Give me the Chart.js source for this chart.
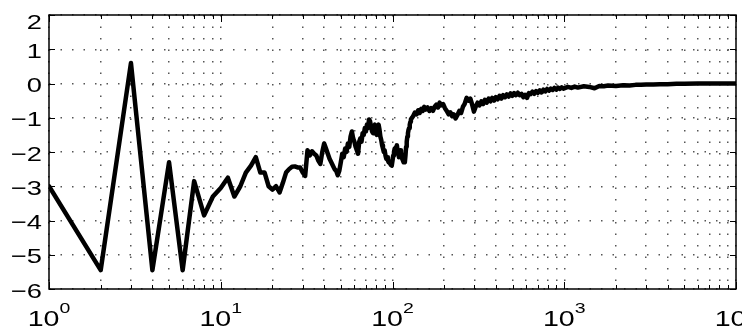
<!DOCTYPE html>
<html>
<head>
<meta charset="utf-8">
<script src="https://cdn.jsdelivr.net/npm/chart.js@4"></script>
<style>
  html, body { margin: 0; padding: 0; background: #fff; }
  #wrap { width: 742px; height: 326px; }
</style>
</head>
<body>
<div id="wrap"><canvas id="c" width="742" height="326"></canvas></div>
<script>
/* ============================================================
   log-x response curve, MATLAB-like frame
   ============================================================ */

const FONT = '"Liberation Sans", Arial, Helvetica, sans-serif';
const SX   = 1.3;   // text looks stretched sideways in the original

/* axes */
const xMajor      = [1, 10, 100, 1000, 10000];
const xExpLabels  = ['0', '1', '2', '3', '4'];
const xMinorSteps = [2, 3, 4, 5, 6, 7, 8, 9];
const yTicks      = [-6, -5, -4, -3, -2, -1, 0, 1, 2];

/* values for n = 1 .. 130 */
const yLow = [
  -3.0, -5.45, 0.6, -5.45, -2.3, -5.45, -2.85, -3.85, -3.3, -3.05,
  -2.75, -3.3, -3.0, -2.6, -2.4, -2.15, -2.6, -2.6, -3.0, -3.1,
  -3.0, -3.18, -2.9, -2.6, -2.5, -2.43, -2.42, -2.45, -2.45, -2.6,
  -2.7, -1.95, -2.1, -1.98, -2.05, -2.1, -2.25, -2.35, -2.0, -1.75,
  -1.9, -2.05, -2.2, -2.3, -2.4, -2.5, -2.55, -2.68, -2.55, -2.3,
  -2.05, -2.15, -1.9, -2.0, -1.75, -1.85, -1.55, -1.4, -1.6, -1.7,
  -1.85, -1.95, -2.05, -1.7, -1.6, -1.7, -1.45, -1.5, -1.3, -1.4,
  -1.2, -1.3, -1.05, -1.1, -1.25, -1.4, -1.45, -1.25, -1.2, -1.4,
  -1.5, -1.3, -1.2, -1.35, -1.55, -1.65, -1.8, -1.9, -2.0, -1.95,
  -2.1, -2.2, -2.15, -2.25, -2.3, -2.28, -2.35, -2.38, -2.4, -2.25,
  -2.1, -2.0, -1.9, -1.95, -1.85, -1.8, -1.95, -2.05, -2.15, -2.1,
  -1.95, -2.0, -2.15, -2.2, -2.25, -2.3, -2.25, -2.3, -2.1, -1.85,
  -1.7, -1.55, -1.45, -1.35, -1.3, -1.2, -1.12, -1.05, -1.02, -1.0,
];

/* beyond n = 130, read along the noisy band */
const xHigh = [
  132, 135, 138, 141, 144, 147, 150, 153, 156, 160,
  164, 168, 172, 176, 180, 184, 188, 192, 197, 202,
  207, 212, 217, 222, 227, 233, 239, 245, 251, 257,
  263, 270, 277, 284, 291, 298, 305, 313, 321, 329,
  337, 345, 354, 363, 372, 381, 390, 400, 410, 420,
  430, 441, 452, 463, 475, 487, 499, 511, 524, 537,
  550, 564, 578, 592, 607, 622, 637, 653, 669, 686,
  703, 720, 738, 756, 775, 794, 814, 834, 855, 876,
  898, 920, 943, 966, 990, 1050, 1100, 1150, 1200, 1300,
  1400, 1500, 1600, 1700, 1800, 2000, 2200, 2400, 2600, 2800,
  3000, 3300, 3600, 4000, 4500, 5000, 6000, 7000, 8000, 10000,
];
const yHigh = [
  -0.95, -0.85, -0.9, -0.78, -0.86, -0.74, -0.8, -0.68, -0.76, -0.7,
  -0.8, -0.72, -0.8, -0.68, -0.62, -0.7, -0.56, -0.64, -0.6, -0.72,
  -0.8, -0.9, -0.84, -0.95, -0.9, -1.02, -0.92, -0.8, -0.86, -0.68,
  -0.6, -0.42, -0.5, -0.44, -0.62, -0.82, -0.68, -0.56, -0.64, -0.52,
  -0.6, -0.48, -0.56, -0.44, -0.52, -0.42, -0.5, -0.4, -0.46, -0.36,
  -0.44, -0.34, -0.4, -0.32, -0.38, -0.29, -0.36, -0.28, -0.34, -0.27,
  -0.34, -0.3, -0.4, -0.33, -0.42, -0.28, -0.31, -0.24, -0.3, -0.22,
  -0.27, -0.2, -0.26, -0.18, -0.23, -0.16, -0.21, -0.15, -0.19, -0.13,
  -0.18, -0.12, -0.16, -0.11, -0.15, -0.1, -0.13, -0.09, -0.12, -0.08,
  -0.1, -0.14, -0.07, -0.08, -0.06, -0.07, -0.05, -0.06, -0.04, -0.04,
  -0.03, -0.03, -0.02, -0.02, -0.01, -0.01, 0, 0, 0, 0,
];

const points = [
  ...yLow.map((v, i) => ({ x: i + 1, y: v })),
  ...xHigh.map((v, i) => ({ x: v, y: yHigh[i] })),
];

/* all grid positions on the log axis: 1..9 x each decade */
const xTickValues = [];
xMajor.forEach((m, i) => {
  xTickValues.push(m);
  if (i < xMajor.length - 1) xMinorSteps.forEach(k => xTickValues.push(k * m));
});

/* ── helpers ── */
function stretchedText(ctx, txt, x, y, font, align) {
  ctx.save();
  ctx.font = font;
  ctx.translate(x, y);
  ctx.scale(SX, 1);
  ctx.textAlign = align;
  ctx.fillText(txt, 0, 0);
  ctx.restore();
}

/* frame, inward ticks and tick labels */
const frameAndTicks = {
  id: 'frameAndTicks',
  afterDraw(chart) {
    const { ctx, chartArea: a, scales: { x, y } } = chart;
    ctx.save();
    ctx.strokeStyle = '#000';
    ctx.lineWidth   = 1;
    ctx.beginPath();
    xTickValues.forEach(v => {
      const px  = Math.round(x.getPixelForValue(v)) + 0.5;
      const len = xMajor.includes(v) ? 7 : 4;
      ctx.moveTo(px, a.bottom); ctx.lineTo(px, a.bottom - len);
      ctx.moveTo(px, a.top);    ctx.lineTo(px, a.top + len);
    });
    yTicks.forEach(v => {
      const py = Math.round(y.getPixelForValue(v)) + 0.5;
      ctx.moveTo(a.left, py);  ctx.lineTo(a.left + 6, py);
      ctx.moveTo(a.right, py); ctx.lineTo(a.right - 6, py);
    });
    ctx.stroke();

    ctx.lineWidth = 1.5;
    ctx.strokeRect(a.left, a.top, a.right - a.left, a.bottom - a.top);

    ctx.fillStyle    = '#000';
    ctx.textBaseline = 'alphabetic';

    /* y labels */
    const yFont = '21px ' + FONT;
    yTicks.forEach(v => {
      const py  = Math.max(y.getPixelForValue(v), a.top + 5);
      const txt = v < 0 ? '\u2212' + Math.abs(v) : String(v);
      stretchedText(ctx, txt, a.left - 7, py + 0.358 * 21 + 1, yFont, 'right');
    });

    /* x labels 10^k */
    const bFont = '22px ' + FONT;
    const eFont = '15px ' + FONT;
    xMajor.forEach((v, i) => {
      const px = x.getPixelForValue(v);
      ctx.font = bFont;
      const wb = ctx.measureText('10').width * SX;
      ctx.font = eFont;
      const we = ctx.measureText(xExpLabels[i]).width * SX;
      const left = px - (wb + we) / 2;
      stretchedText(ctx, '10', left, a.bottom + 37, bFont, 'left');
      stretchedText(ctx, xExpLabels[i], left + wb, a.bottom + 24, eFont, 'left');
    });
    ctx.restore();
  },
};

const gridOpts = { color: '#555', lineWidth: 1.5, drawTicks: false };
const dotted   = { display: false, dash: [1.5, 10] };

new Chart(document.getElementById('c'), {
  type: 'line',
  data: {
    datasets: [{
      data           : points,
      borderColor    : '#000',
      borderWidth    : 4.5,
      pointRadius    : 0,
      tension        : 0,
      borderJoinStyle: 'round',
      borderCapStyle : 'round',
    }],
  },
  options: {
    responsive: false,
    animation : false,
    devicePixelRatio: 1,
    layout : { padding: { left: 0, top: 15, right: 6, bottom: 0 } },
    plugins: { legend: { display: false }, tooltip: { enabled: false } },
    scales : {
      x: {
        type  : 'logarithmic',
        min   : 1,
        max   : 10000,
        grid  : gridOpts,
        border: dotted,
        ticks : { display: false },
        afterBuildTicks: s => { s.ticks = xTickValues.map(v => ({ value: v })); },
        afterFit       : s => { s.height = 37; },
      },
      y: {
        min   : -6,
        max   : 2,
        grid  : gridOpts,
        border: dotted,
        ticks : { display: false },
        afterBuildTicks: s => { s.ticks = yTicks.map(v => ({ value: v })); },
        afterFit       : s => { s.width = 49; },
      },
    },
  },
  plugins: [frameAndTicks],
});
</script>
</body>
</html>
